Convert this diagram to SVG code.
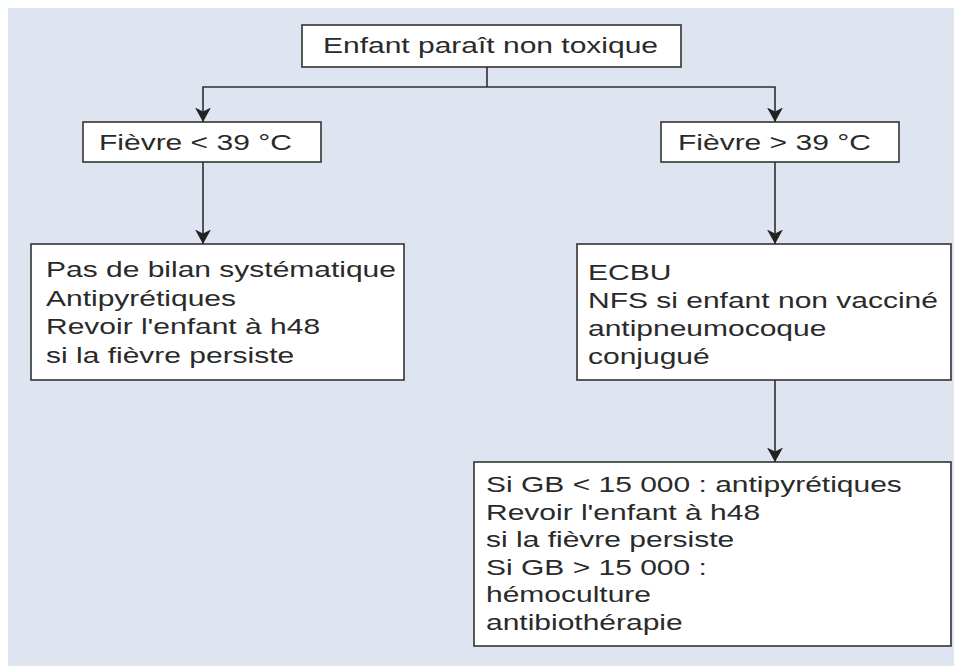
<svg xmlns="http://www.w3.org/2000/svg" width="954" height="666" viewBox="0 0 954 666">
<style>
.box{fill:#ffffff;stroke:#333333;stroke-width:1.6}
.t{font-family:"Liberation Sans",Arial,sans-serif;font-size:22.2px;fill:#2a2a2a}
.ln{fill:none;stroke:#2e2e2e;stroke-width:1.6}
</style>
<defs>
<marker id="ah" markerUnits="userSpaceOnUse" markerWidth="15" markerHeight="17" viewBox="0 0 15 17" refX="14.5" refY="8.5" orient="auto">
<path d="M0,0.5 L14.5,8.5 L0,16.5 L4,8.5 Z" fill="#222222"/>
</marker>
</defs>
<rect x="8" y="8" width="946" height="658" fill="#dfe4f1"/>
<g id="connectors">
<path class="ln" d="M487,67 V87"/>
<path class="ln" d="M487,87 H203 V122" marker-end="url(#ah)"/>
<path class="ln" d="M487,87 H775 V122" marker-end="url(#ah)"/>
<path class="ln" d="M203,162 V244" marker-end="url(#ah)"/>
<path class="ln" d="M775,162 V244" marker-end="url(#ah)"/>
<path class="ln" d="M775,380 V462" marker-end="url(#ah)"/>
</g>
<g id="n-top">
<rect class="box" x="302" y="25" width="379" height="42"/>
<text class="t" transform="matrix(1.351 0 0 1 323 53)">Enfant paraît non toxique</text>
</g>
<g id="n-fievre-inf">
<rect class="box" x="83" y="122" width="238" height="40"/>
<text class="t" transform="matrix(1.351 0 0 1 99 150)">Fièvre &lt; 39 °C</text>
</g>
<g id="n-fievre-sup">
<rect class="box" x="661" y="122" width="238" height="40"/>
<text class="t" transform="matrix(1.351 0 0 1 678 150)">Fièvre &gt; 39 °C</text>
</g>
<g id="n-pas-bilan">
<rect class="box" x="31" y="244" width="373" height="136"/>
<text class="t" transform="matrix(1.351 0 0 1 46 277)">Pas de bilan systématique</text>
<text class="t" transform="matrix(1.351 0 0 1 46 305.5)">Antipyrétiques</text>
<text class="t" transform="matrix(1.351 0 0 1 46 334)">Revoir l'enfant à h48</text>
<text class="t" transform="matrix(1.351 0 0 1 46 362.5)">si la fièvre persiste</text>
</g>
<g id="n-ecbu">
<rect class="box" x="577" y="244" width="374" height="136"/>
<text class="t" transform="matrix(1.351 0 0 1 588 280)">ECBU</text>
<text class="t" transform="matrix(1.351 0 0 1 588 308)">NFS si enfant non vacciné</text>
<text class="t" transform="matrix(1.351 0 0 1 588 336)">antipneumocoque</text>
<text class="t" transform="matrix(1.351 0 0 1 588 364)">conjugué</text>
</g>
<g id="n-gb">
<rect class="box" x="474" y="462" width="477" height="184"/>
<text class="t" transform="matrix(1.351 0 0 1 486 492)">Si GB &lt; 15 000 : antipyrétiques</text>
<text class="t" transform="matrix(1.351 0 0 1 486 519.5)">Revoir l'enfant à h48</text>
<text class="t" transform="matrix(1.351 0 0 1 486 547)">si la fièvre persiste</text>
<text class="t" transform="matrix(1.351 0 0 1 486 574.5)">Si GB &gt; 15 000 :</text>
<text class="t" transform="matrix(1.351 0 0 1 486 602)">hémoculture</text>
<text class="t" transform="matrix(1.351 0 0 1 486 630)">antibiothérapie</text>
</g>
</svg>
